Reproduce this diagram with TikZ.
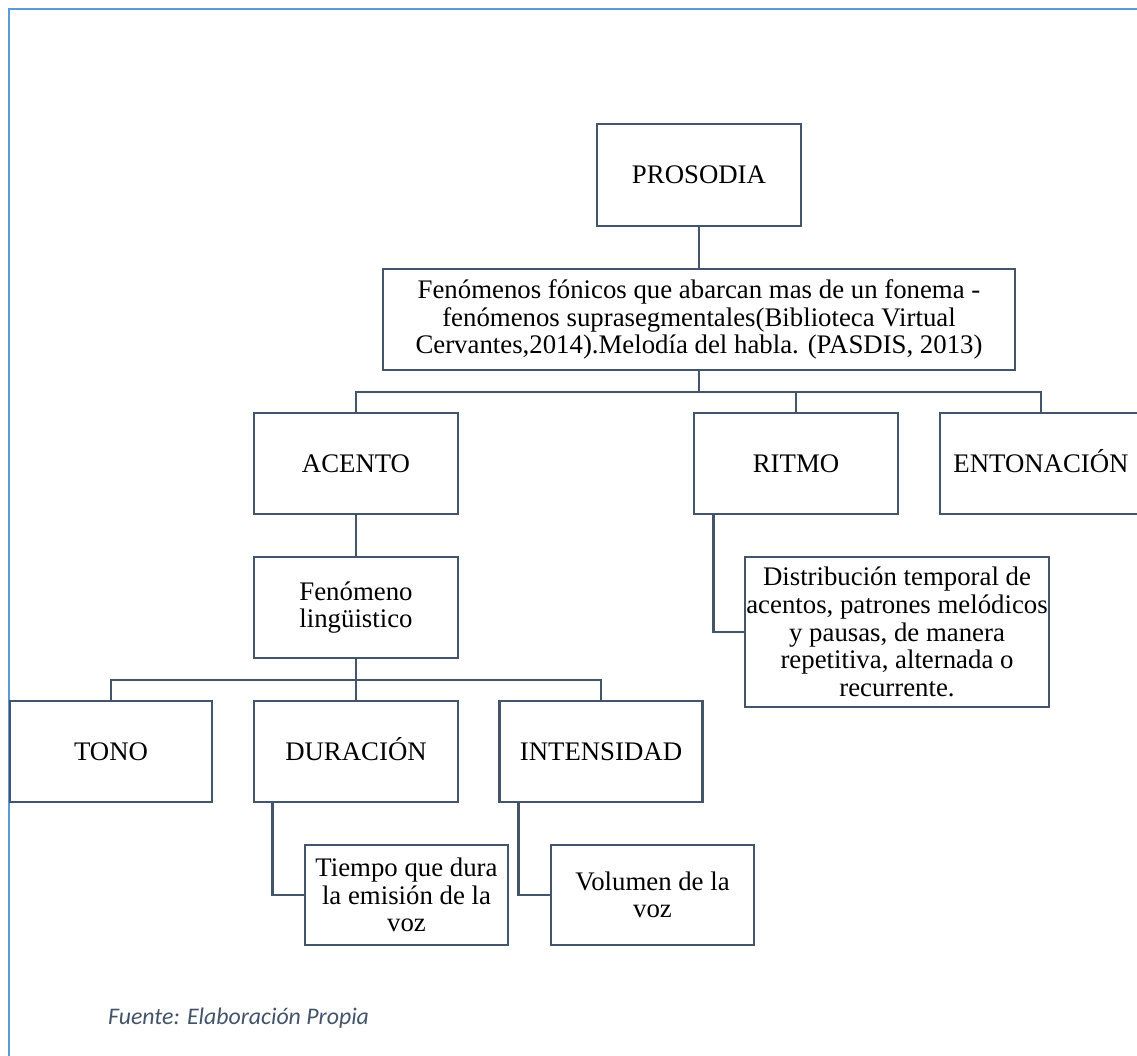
\documentclass[tikz,border=0pt]{standalone}
\usepackage{fontspec}
\setmainfont{Liberation Serif}
\newfontfamily\capfont{Carlito}
\definecolor{slate}{HTML}{44546A}
\definecolor{frameblue}{HTML}{5B9BD5}
\tikzset{
  box/.style={draw=slate, line width=2.8pt, fill=white, inner sep=0pt, align=center,
    font=\fontsize{26.8}{27.6}\selectfont, text=black},
  onebox/.style={box, text height=24pt, text depth=6pt},
  link/.style={draw=slate, line width=2.8pt},
}
\begin{document}
\begin{tikzpicture}[x=1pt,y=-1pt]
\useasboundingbox (0,0) rectangle (1137,1056);
\clip (0,0) rectangle (1137,1056);
\fill[white] (0,0) rectangle (1137,1056);
\draw[frameblue, line width=2.8pt] (9,9) rectangle (1200,1120);

\node[onebox, minimum width=204pt, minimum height=102pt] (pros) at (699,175) {PROSODIA};
\node[box, minimum width=632pt, minimum height=101pt] (fen) at (699,319.5)
  {Fenómenos fónicos que abarcan mas de un fonema -\\fenómenos suprasegmentales(Biblioteca Virtual\\Cervantes,2014).Melodía del habla. (PASDIS, 2013)};
\node[onebox, minimum width=204pt, minimum height=101pt] (acento) at (356,463.5) {ACENTO};
\node[onebox, minimum width=204pt, minimum height=101pt] (ritmo) at (796,463.5) {RITMO};
\node[onebox, minimum width=202pt, minimum height=101pt] (ent) at (1041,463.5) {ENTONACIÓN};
\node[box, minimum width=204pt, minimum height=101pt] (fenl) at (356,607.5) {Fenómeno\\lingüistico};
\node[box, minimum width=304pt, minimum height=150pt] (dist) at (897,632)
  {Distribución temporal de\\acentos, patrones melódicos\\y pausas, de manera\\repetitiva, alternada o\\recurrente.};
\node[onebox, minimum width=202pt, minimum height=101pt] (tono) at (111,751.5) {TONO};
\node[onebox, minimum width=204pt, minimum height=101pt] (dur) at (356,751.5) {DURACIÓN};
\node[onebox, minimum width=203pt, minimum height=101pt] (int) at (601,751.5) {INTENSIDAD};
\node[box, minimum width=203pt, minimum height=100pt] (tiempo) at (406.5,895) {Tiempo que dura\\la emisión de la\\voz};
\node[box, minimum width=203pt, minimum height=100pt] (vol) at (652.5,895) {Volumen de la\\voz};

\coordinate (bus1) at (699,392);
\coordinate (bus2) at (356,680);

\draw[link] (pros.south) -- (fen.north);
\draw[link] (fen.south) -- (bus1);
\draw[link] (acento.north) |- (bus1) -| (ent.north);
\draw[link] (ritmo.north) -- (ritmo.north |- bus1);
\draw[link] (acento.south) -- (fenl.north);
\draw[link] (fenl.south) -- (bus2);
\draw[link] (tono.north) |- (bus2) -| (int.north);
\draw[link] (dur.north) -- (bus2);
\draw[link] ([xshift=21pt]ritmo.south west) |- (dist.west);
\draw[link] ([xshift=20pt]dur.south west) |- (tiempo.west);
\draw[link] ([xshift=20pt]int.south west) |- (vol.west);

\node[anchor=base west, inner sep=0pt, text=slate, font=\capfont\itshape\fontsize{23.8}{26}\selectfont] (src) at (108,1024) {Fuente: Elaboración Propia};
\end{tikzpicture}
\end{document}
